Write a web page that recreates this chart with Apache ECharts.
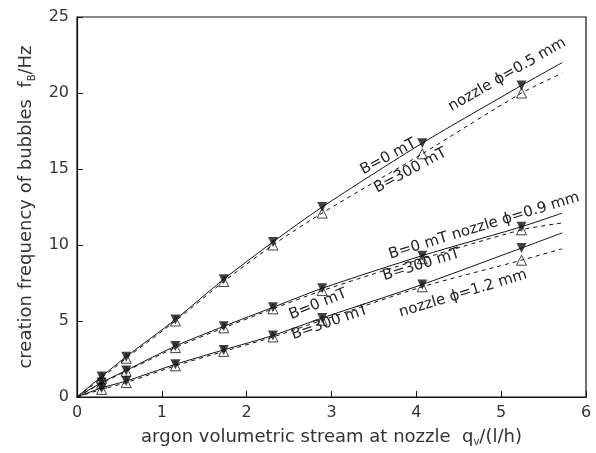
<!DOCTYPE html>
<html>
<head>
<meta charset="utf-8">
<script src="https://cdn.jsdelivr.net/npm/echarts@6/dist/echarts.min.js"></script>
<style>
  html, body { margin: 0; padding: 0; background: #fff; }
  #main { width: 596px; height: 453px; }
</style>
</head>
<body>
<div id="main"></div>
<script>
// gas flow at the nozzle, l/h
var flow = [0.29, 0.58, 1.16, 1.73, 2.31, 2.89, 4.07, 5.24];

// bubble frequency, Hz
var d05_B0   = [1.35, 2.65, 5.1, 7.75, 10.2, 12.5, 16.7, 20.5];
var d05_B300 = [1.25, 2.55, 5.0, 7.6, 10.0, 12.1, 16.0, 20.0];
var d09_B0   = [0.95, 1.75, 3.35, 4.65, 5.9, 7.15, 9.3, 11.2];
var d09_B300 = [0.9, 1.7, 3.25, 4.55, 5.8, 7.0, 9.1, 11.0];
var d12_B0   = [0.6, 1.05, 2.15, 3.1, 4.05, 5.2, 7.4, 9.8];
var d12_B300 = [0.5, 0.95, 2.05, 3.0, 3.95, 5.05, 7.25, 9.0];

// where the fitted curves stop
var fitEnd = 5.72;
var end05 = [22.0, 21.3];
var end09 = [12.1, 11.45];
var end12 = [10.8, 9.75];

var xTicks = [0, 1, 2, 3, 4, 5, 6];
var yTicks = [0, 5, 10, 15, 20, 25];

var FONT = 'DejaVu Sans';

function pts(ys) {
    return flow.map(function (x, i) { return [x, ys[i]]; });
}
function curve(ys, yEnd) {
    return [[0, 0]].concat(pts(ys)).concat([[fitEnd, yEnd]]);
}
function fitLine(ys, yEnd, dashed) {
    return {
        type: 'line',
        data: curve(ys, yEnd),
        smooth: 0.25,
        symbol: 'none',
        silent: true,
        lineStyle: { color: '#111', width: 1, type: dashed ? [4, 4] : 'solid' },
        z: 2
    };
}
function marks(ys, filled) {
    return {
        type: 'scatter',
        data: pts(ys),
        symbol: 'triangle',
        symbolSize: 10,
        symbolRotate: filled ? 180 : 0,
        itemStyle: filled
            ? { color: '#111' }
            : { color: 'rgba(255,255,255,0)', borderColor: '#111', borderWidth: 1 },
        z: filled ? 3 : 4
    };
}

var chart = echarts.init(document.getElementById('main'));

chart.setOption({
    animation: false,
    backgroundColor: '#fff',
    grid: { left: 77, right: 10, top: 17, bottom: 56, show: true, borderColor: '#111', borderWidth: 1.2 },
    xAxis: {
        type: 'value', min: 0, max: 6, interval: 1,
        axisLine: { lineStyle: { color: '#111', width: 1.2 } },
        axisTick: { inside: true, length: 6, lineStyle: { color: '#111' } },
        splitLine: { show: false },
        axisLabel: { color: '#333', fontFamily: FONT, fontSize: 16, margin: 8,
            formatter: function (v) { return xTicks.indexOf(v) >= 0 ? String(v) : ''; } },
        nameLocation: 'middle', nameGap: 28,
        name: '{t|argon volumetric stream at nozzle  q}{s|v}{t|/(l/h)}',
        nameTextStyle: { rich: {
            t: { fontFamily: FONT, fontSize: 18, color: '#333', lineHeight: 22 },
            s: { fontFamily: FONT, fontSize: 10, color: '#333', verticalAlign: 'bottom', lineHeight: 12, padding: [12, 0, 0, 0] }
        } }
    },
    yAxis: {
        type: 'value', min: 0, max: 25, interval: 5,
        axisLine: { lineStyle: { color: '#111', width: 1.2 } },
        axisTick: { inside: true, length: 6, lineStyle: { color: '#111' } },
        splitLine: { show: false },
        axisLabel: { color: '#333', fontFamily: FONT, fontSize: 16, margin: 8,
            formatter: function (v) { return yTicks.indexOf(v) >= 0 ? String(v) : ''; } },
        nameLocation: 'middle', nameGap: 40,
        name: '{t|creation frequency of bubbles  f}{s|B}{t|/Hz}',
        nameTextStyle: { rich: {
            t: { fontFamily: FONT, fontSize: 18, color: '#333', lineHeight: 22 },
            s: { fontFamily: FONT, fontSize: 10, color: '#333', verticalAlign: 'bottom', lineHeight: 12, padding: [12, 0, 0, 0] }
        } }
    },
    series: [
        fitLine(d05_B0, end05[0], false),
        fitLine(d05_B300, end05[1], true),
        fitLine(d09_B0, end09[0], false),
        fitLine(d09_B300, end09[1], true),
        fitLine(d12_B0, end12[0], false),
        fitLine(d12_B300, end12[1], true),
        marks(d05_B0, true), marks(d05_B300, false),
        marks(d09_B0, true), marks(d09_B300, false),
        marks(d12_B0, true), marks(d12_B300, false)
    ]
});

// rotated annotations, anchored in data coordinates
var notes = [
    ['nozzle \u03D5=0.5 mm', 5.07, 21.2, 30],
    ['B=0 mT', 3.67, 15.8, 28],
    ['B=300 mT', 3.93, 14.9, 28],
    ['B=0 mT nozzle \u03D5=0.9 mm', 4.8, 11.25, 17],
    ['B=300 mT', 4.06, 8.7, 17],
    ['B=0 mT', 2.84, 6.1, 22],
    ['B=300 mT', 2.98, 4.9, 19],
    ['nozzle \u03D5=1.2 mm', 4.55, 6.8, 17]
];
chart.setOption({
    graphic: notes.map(function (n) {
        var p = chart.convertToPixel({ gridIndex: 0 }, [n[1], n[2]]);
        return {
            type: 'text', x: p[0], y: p[1], rotation: n[3] * Math.PI / 180, z: 10,
            style: { text: n[0], fill: '#222', font: '15px "' + FONT + '"', align: 'center', verticalAlign: 'middle' }
        };
    })
});
</script>
</body>
</html>
